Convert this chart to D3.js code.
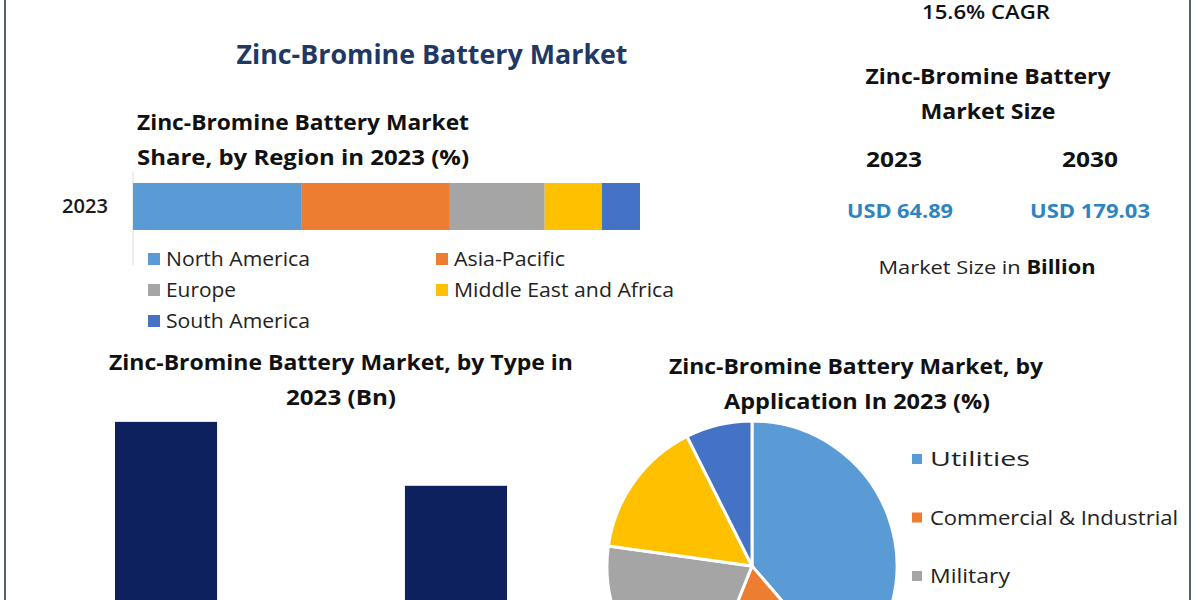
<!DOCTYPE html>
<html>
<head>
<meta charset="utf-8">
<script src="https://cdn.jsdelivr.net/npm/d3@7/dist/d3.min.js"></script>
<style>
  html, body { margin: 0; padding: 0; background: #ffffff; }
  svg { display: block; }
  text { font-family: "Open Sans", "Noto Sans", sans-serif; }
</style>
</head>
<body>
<svg id="chart" width="1200" height="600"></svg>
<script>
// ---------------- DATA ----------------
const regionYear = "2023";
const regionNames = ["North America", "Asia-Pacific", "Europe", "Middle East and Africa", "South America"];
const regionShares = [33.3, 29.2, 18.7, 11.3, 7.5];
const regionColors = ["#5b9bd5", "#ed7d31", "#a5a5a5", "#ffc000", "#4472c4"];

const typeNames = ["Zinc-Bromine Flow Battery", "Zinc-Bromine Non-Flow Battery"];
const typeValues = [37.6, 27.29];

const appNames = ["Utilities", "Commercial & Industrial", "Military", "Residential", "Others"];
const appShares = [38.7, 17.4, 21.1, 15.4, 7.4];
const appColors = ["#5b9bd5", "#ed7d31", "#a5a5a5", "#ffc000", "#4472c4"];

const cagrText = "15.6% CAGR";
const sizeYears = ["2023", "2030"];
const sizeValues = ["USD 64.89", "USD 179.03"];

// ---------------- HELPERS ----------------
const svg = d3.select("#chart");
function txt(t, x, y, o = {}) {
  const size = o.size || 20;
  const el = svg.append("text")
    .attr("x", x)
    .attr("y", y + size * 0.36)
    .attr("text-anchor", o.anchor || "middle")
    .attr("font-size", size)
    .attr("font-weight", o.weight || 400)
    .attr("fill", o.fill || "#111")
    .text(t);
  if (o.width) el.attr("textLength", o.width).attr("lengthAdjust", "spacingAndGlyphs");
  return el;
}

// frame lines
svg.append("line").attr("x1", 5).attr("x2", 5).attr("y1", 0).attr("y2", 600)
  .attr("stroke", "#56616c").attr("stroke-width", 2);
svg.append("line").attr("x1", 1190).attr("x2", 1190).attr("y1", 0).attr("y2", 600)
  .attr("stroke", "#56616c").attr("stroke-width", 2);

// ---------------- TITLES ----------------
txt("Zinc-Bromine Battery Market", 432, 55, {size: 26, weight: 700, fill: "#1f3864", width: 391});

// ---------------- REGION STACKED BAR ----------------
txt("Zinc-Bromine Battery Market", 303, 122, {size: 22, weight: 700, width: 332});
txt("Share, by Region in 2023 (%)", 303, 157, {size: 22, weight: 700, width: 332});

const xR = d3.scaleLinear().domain([0, 100]).range([133, 640]);
const yR = d3.scaleBand().domain([regionYear]).range([172, 241]).padding(0.19);

svg.append("line").attr("x1", 133).attr("x2", 133).attr("y1", 172).attr("y2", 265)
  .attr("stroke", "#dcdcdc").attr("stroke-width", 1);

let cum = 0;
const stackData = regionShares.map((v, i) => { const d = {name: regionNames[i], v0: cum, v1: cum + v, c: regionColors[i]}; cum += v; return d; });
svg.append("g").selectAll("rect").data(stackData).join("rect")
  .attr("x", d => xR(d.v0))
  .attr("width", d => xR(d.v1) - xR(d.v0))
  .attr("y", yR(regionYear))
  .attr("height", yR.bandwidth())
  .attr("fill", d => d.c);

txt(regionYear, 85, yR(regionYear) + yR.bandwidth() / 2, {size: 19, weight: 600, fill: "#1a1a1a", width: 46});

// legend
const legPos = [[148, 259], [436, 259], [148, 290], [436, 290], [148, 321]];
const legW = [144, 111, 70, 220, 144];
regionNames.forEach((n, i) => {
  const [lx, ly] = legPos[i];
  svg.append("rect").attr("x", lx).attr("y", ly - 6).attr("width", 12).attr("height", 12).attr("fill", regionColors[i]);
  txt(n, lx + 18, ly, {size: 20, anchor: "start", fill: "#222", width: legW[i]});
});

// ---------------- MARKET SIZE PANEL ----------------
txt(cagrText, 986, 12, {size: 19, weight: 600, fill: "#111", width: 128});
txt("Zinc-Bromine Battery", 988, 76, {size: 21, weight: 700, width: 245});
txt("Market Size", 988, 111, {size: 21, weight: 700, width: 135});
sizeYears.forEach((y, i) => {
  const cx = [894, 1090][i];
  txt(y, cx, 159, {size: 21, weight: 700, width: 56});
  txt(sizeValues[i], [900, 1090][i], 211, {size: 19, weight: 700, fill: "#2e84c0", width: [106, 120][i]});
});
const ms = svg.append("text").attr("x", 987).attr("y", 267 + 7).attr("text-anchor", "middle")
  .attr("font-size", 19).attr("fill", "#222")
  .attr("textLength", 217).attr("lengthAdjust", "spacingAndGlyphs");
ms.append("tspan").text("Market Size in ");
ms.append("tspan").attr("font-weight", 700).attr("fill", "#111").text("Billion");

// ---------------- TYPE BAR CHART ----------------
txt("Zinc-Bromine Battery Market, by Type in", 341, 362, {size: 22, weight: 700, width: 464});
txt("2023 (Bn)", 341, 397, {size: 22, weight: 700, width: 110});

const xT = d3.scaleBand().domain(typeNames).range([57, 565]).paddingInner(0.648).paddingOuter(0.2);
const yT = d3.scaleLinear().domain([0, 40]).range([655, 407]);
svg.append("g").selectAll("rect").data(typeNames).join("rect")
  .attr("x", d => xT(d))
  .attr("width", xT.bandwidth())
  .attr("y", (d, i) => yT(typeValues[i]))
  .attr("height", (d, i) => yT(0) - yT(typeValues[i]))
  .attr("fill", "#0c215e");

// ---------------- APPLICATION PIE ----------------
txt("Zinc-Bromine Battery Market, by", 856, 366, {size: 22, weight: 700, width: 374});
txt("Application In 2023 (%)", 857, 401, {size: 22, weight: 700, width: 266});

const pie = d3.pie().sort(null).value(d => d)(appShares);
const arc = d3.arc().innerRadius(0).outerRadius(145);
svg.append("g").attr("transform", "translate(752,566)")
  .selectAll("path").data(pie).join("path")
  .attr("d", arc)
  .attr("fill", (d, i) => appColors[i])
  .attr("stroke", "#ffffff").attr("stroke-width", 3);

// only the legend rows that fall inside the picture are drawn
const appLegW = [100, 248, 80];
appNames.forEach((n, i) => {
  const ly = 459 + i * 58.5;
  if (ly > 590) return;
  svg.append("rect").attr("x", 912).attr("y", ly - 5).attr("width", 10).attr("height", 10).attr("fill", appColors[i]);
  txt(n, 930, ly, {size: 20, anchor: "start", fill: "#222", width: appLegW[i]});
});
</script>
</body>
</html>
